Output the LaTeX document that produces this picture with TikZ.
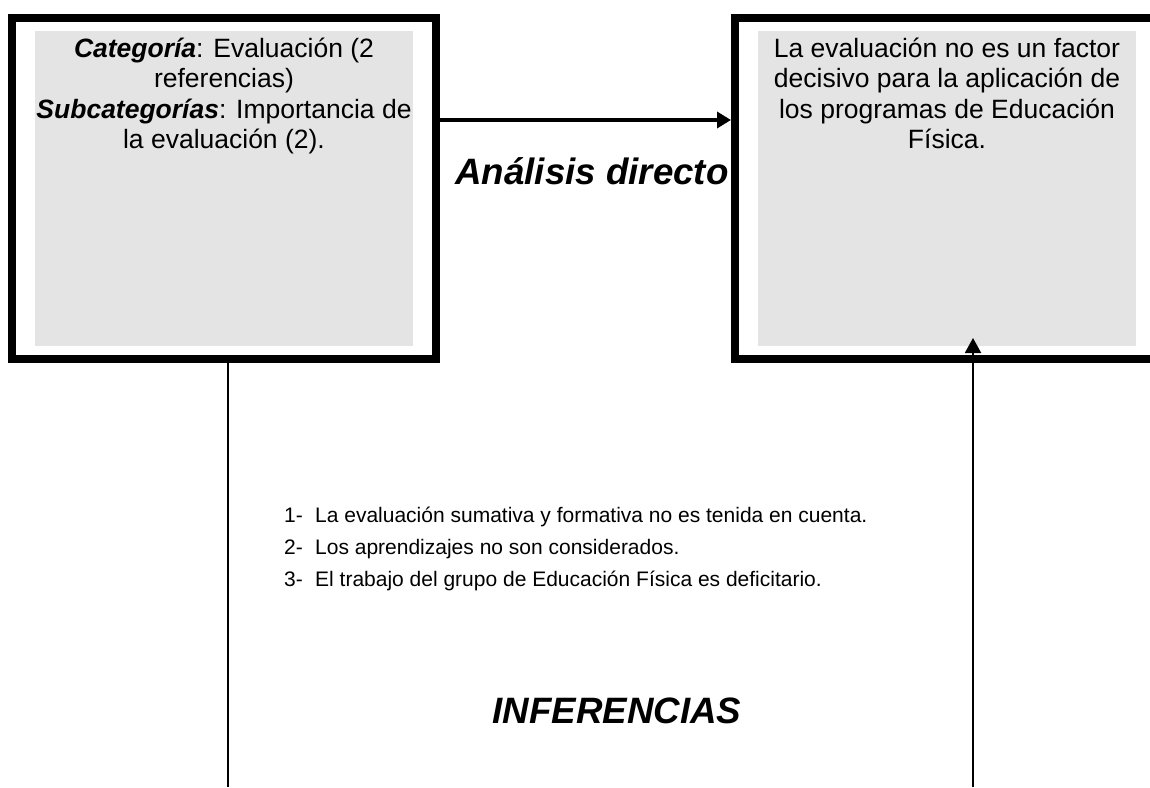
\documentclass[tikz,border=0pt]{standalone}
\usepackage{fontspec}
\setmainfont{Liberation Sans}
\usetikzlibrary{arrows.meta}
\definecolor{boxgray}{HTML}{E4E4E4}
\tikzset{
  frame/.style={draw=black, line width=8pt, fill=white, minimum width=424pt, minimum height=341.5pt, inner sep=0pt},
  panel/.style={fill=boxgray, minimum width=378pt, minimum height=315pt, inner sep=0pt},
  boxtext/.style={align=center, anchor=north, inner sep=0pt, font=\fontsize{26.5}{30.5}\selectfont},
  bigtitle/.style={font=\fontsize{36.7}{42}\selectfont\bfseries\itshape, inner sep=0pt, anchor=base},
  listtext/.style={font=\fontsize{21}{32}\selectfont, inner sep=0pt, anchor=north west},
  arrowthick/.style={-{Triangle[length=14pt,width=16pt]}, line width=4pt},
  arrowthin/.style={-{Triangle[length=15pt,width=16pt]}, line width=2pt},
  thinline/.style={line width=2pt},
}
\begin{document}
\begin{tikzpicture}[x=1pt, y=-1pt]
\useasboundingbox (0,0) rectangle (1150,787);
\begin{scope}
\clip (0,0) rectangle (1150,787);
\fill[white] (0,0) rectangle (1150,787);
% title between boxes
\node[bigtitle] (analisis) at (592,184) {Análisis directo};
% left box
\node[frame] (catbox) at (223.5,188.25) {};
\node[panel] (catpanel) at (224,188.5) {};
\node[boxtext] (cattext) at (224,33) {\rule{0pt}{24pt}{\bfseries\itshape Categoría}: Evaluación (2\\referencias)\\{\bfseries\itshape Subcategorías}: Importancia de\\la evaluación (2).};
% right box
\node[frame] (conbox) at (947,188.25) {};
\node[panel] (conpanel) at (947,188.5) {};
\node[boxtext] (context) at (947,33) {\rule{0pt}{24pt}La evaluación no es un factor\\decisivo para la aplicación de\\los programas de Educación\\Física.};
% list of inferences
\node[listtext] (lista) at (284,500) {%
  \begin{tabular}{@{}p{31pt}@{}l@{}}
  1- & La evaluación sumativa y formativa no es tenida en cuenta.\\
  2- & Los aprendizajes no son considerados.\\
  3- & El trabajo del grupo de Educación Física es deficitario.
  \end{tabular}};
\node[bigtitle] (inferencias) at (617,723) {INFERENCIAS};
% connectors
\coordinate (arow) at (0,120);
\coordinate (lb) at (228,787);
\coordinate (rb) at (973,787);
\coordinate (rt) at (973,338);
\draw[arrowthick] (catbox.east |- arow) -- (conbox.west |- arow);
\draw[thinline] (catbox.south -| lb) -- (lb);
\draw[arrowthin] (rb) -- (rt);
\end{scope}
\end{tikzpicture}
\end{document}
